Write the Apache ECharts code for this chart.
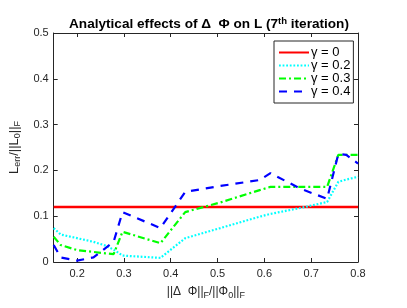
<!DOCTYPE html>
<html><head><meta charset="utf-8">
<script src="https://cdn.jsdelivr.net/npm/echarts@6/dist/echarts.min.js"></script>
<style>html,body{margin:0;padding:0;background:#fff}#c{width:407px;height:308px}</style>
</head><body><div id="c"></div>
<script>
var xVals = [0.15, 0.165, 0.2, 0.235, 0.26, 0.278, 0.297, 0.378, 0.431, 0.506, 0.59, 0.613, 0.677, 0.734, 0.758, 0.775, 0.8];
var gamma0 = [0.12, 0.12, 0.12, 0.12, 0.12, 0.12, 0.12, 0.12, 0.12, 0.12, 0.12, 0.12, 0.12, 0.12, 0.12, 0.12, 0.12];
var gamma02 = [0.074, 0.06, 0.052, 0.044, 0.036, 0.027, 0.014, 0.009, 0.052, 0.074, 0.099, 0.105, 0.118, 0.131, 0.175, 0.18, 0.186];
var gamma03 = [0.055, 0.037, 0.026, 0.022, 0.019, 0.017, 0.066, 0.041, 0.109, 0.13, 0.157, 0.164, 0.164, 0.164, 0.234, 0.234, 0.234];
var gamma04 = [0.037, 0.01, 0.003, 0.01, 0.03, 0.044, 0.109, 0.074, 0.153, 0.166, 0.179, 0.194, 0.16, 0.138, 0.236, 0.234, 0.215];
var xTicks = [0.2, 0.3, 0.4, 0.5, 0.6, 0.7, 0.8];
var yTicks = [0, 0.1, 0.2, 0.3, 0.4, 0.5];
var names = ['\u03b3 = 0', '\u03b3 = 0.2', '\u03b3 = 0.3', '\u03b3 = 0.4'];

function pairs(ys){ return xVals.map(function(x,i){ return [x, ys[i]]; }); }
var FONT = 'Liberation Sans';
var axisCol = '#262626';
var grid = {left:53, right:49, top:33, bottom:46};
var baseX = {
  type:'value', min:0.15, max:0.8,
  axisLine:{show:true, onZero:false, lineStyle:{color:axisCol, width:1}},
  axisTick:{show:true, inside:true, length:4, customValues:xTicks, lineStyle:{color:axisCol}},
  splitLine:{show:false}
};
var baseY = {
  type:'value', min:0, max:0.5, interval:0.1,
  axisLine:{show:true, onZero:false, lineStyle:{color:axisCol, width:1}},
  axisTick:{show:true, inside:true, length:4, lineStyle:{color:axisCol}},
  splitLine:{show:false}
};
var subStyle = {fontSize:9, fontFamily:FONT, color:axisCol, padding:[7,0,0,0]};
var option = {
  animation:false,
  backgroundColor:'#fff',
  title:{
    text:'Analytical effects of \u0394  \u03a6 on L (7{sup|th} iteration)',
    left:204, textAlign:'center', top:11,
    textStyle:{fontFamily:FONT, fontWeight:'bold', fontSize:13.6, color:'#000',
      rich:{sup:{fontSize:9.5, fontWeight:'bold', fontFamily:FONT, color:'#000', padding:[0,0,7,0]}}}
  },
  grid:grid,
  legend:{
    left:274, top:41, orient:'vertical', data:names,
    backgroundColor:'#fff', borderColor:axisCol, borderWidth:1, borderRadius:0,
    padding:[5,3,5,4], itemGap:0, itemWidth:30, itemHeight:10,
    itemStyle:{opacity:0},
    textStyle:{fontFamily:FONT, fontSize:13, lineHeight:10, color:'#000', padding:[0,0,0,-3]}
  },
  xAxis:[
    Object.assign({}, baseX, {
      position:'bottom',
      axisLabel:{show:true, customValues:xTicks, margin:6, fontFamily:FONT, fontSize:11, color:axisCol,
        formatter:function(v){return String(Math.round(v*10)/10);}},
      name:'||\u0394  \u03a6||{s|F}/||\u03a6{s|0}||{s|F}', nameLocation:'middle', nameGap:22,
      nameTextStyle:{fontFamily:FONT, fontSize:12, color:axisCol, rich:{s:subStyle}}
    }),
    Object.assign({}, baseX, {position:'top', axisLabel:{show:false}})
  ],
  yAxis:[
    Object.assign({}, baseY, {
      position:'left',
      axisLabel:{show:true, margin:5, fontFamily:FONT, fontSize:11, color:axisCol,
        formatter:function(v){return String(Math.round(v*10)/10);}},
      name:'L{s|err}/||L{s|0}||{s|F}', nameLocation:'middle', nameGap:27, nameRotate:90,
      nameTextStyle:{fontFamily:FONT, fontSize:13, color:axisCol, rich:{s:subStyle}}
    }),
    Object.assign({}, baseY, {position:'right', axisLabel:{show:false}})
  ],
  series:[
    {name:names[0], type:'line', data:pairs(gamma0), symbol:'none', lineStyle:{color:'#ff0000', width:2.5, type:'solid'}, itemStyle:{color:'#ff0000'}, z:2},
    {name:names[1], type:'line', data:pairs(gamma02), symbol:'none', lineStyle:{color:'#00ffff', width:2.2, type:[1.8,1.8]}, itemStyle:{color:'#00ffff'}, z:3},
    {name:names[2], type:'line', data:pairs(gamma03), symbol:'none', lineStyle:{color:'#00ff00', width:2.2, type:[7,3,2,3]}, itemStyle:{color:'#00ff00'}, z:4},
    {name:names[3], type:'line', data:pairs(gamma04), symbol:'none', lineStyle:{color:'#0000ff', width:2.2, type:[8,7]}, itemStyle:{color:'#0000ff'}, z:5}
  ]
};
var chart = echarts.init(document.getElementById('c'), null, {renderer:'canvas'});
chart.setOption(option);
</script></body></html>
